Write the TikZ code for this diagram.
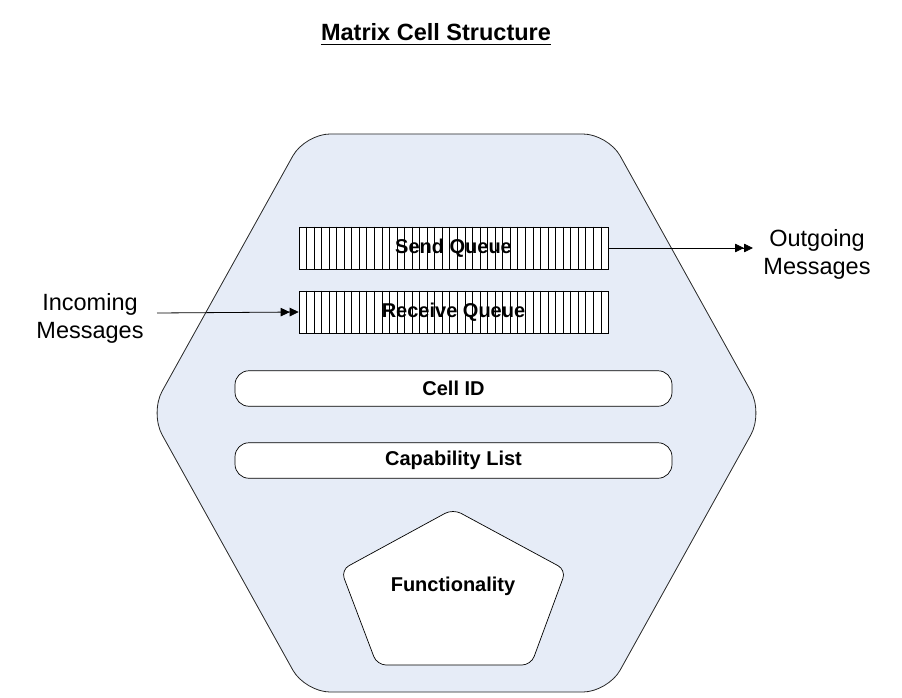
\documentclass[tikz,border=0pt]{standalone}
\usepackage{fontspec}
\setmainfont{Liberation Sans}
\usetikzlibrary{arrows.meta,calc}
\definecolor{cellfill}{RGB}{230,236,247}
\begin{document}
\begin{tikzpicture}[x=1pt,y=-1pt,
  every node/.style={inner sep=0pt},
  queue/.style={draw, fill=white, line width=0.6pt, minimum width=309pt, minimum height=42pt},
  bar/.style={draw, fill=white, rounded corners=14pt, line width=0.7pt, minimum width=437pt, minimum height=35.5pt, font=\fontsize{20}{24}\selectfont\bfseries},
  lbl/.style={font=\fontsize{20}{24}\selectfont\bfseries},
  outer/.style={align=center, font=\fontsize{23.5}{28}\selectfont},
  arr/.style={line width=0.8pt, -{Triangle[length=9pt,width=8.5pt]Triangle[length=9pt,width=8.5pt]}}]
\useasboundingbox[fill=white] (0,0) rectangle (902,698);

% title
\node[font=\fontsize{23.5}{28}\selectfont\bfseries, anchor=base] (title) at (436,41) {Matrix Cell Structure};
\draw[line width=1.6pt] ($(title.base west)+(0pt,-3.5pt)$) -- ($(title.base east)+(0pt,-3.5pt)$);

% cell hexagon
\path[draw=black!85, fill=cellfill, line width=0.8pt, rounded corners=25pt]
  (305,134) -- (608,134) -- (763,413) -- (608,692) -- (305,692) -- (150,413) -- cycle;

% queues
\node[queue] (sq) at (453.5,248) {};
\node[queue] (rq) at (453.5,312) {};
\foreach \q in {sq,rq}{
  \foreach \i in {1,...,40}{
    \draw[line width=0.5pt] ($(\q.north west)!\i/41!(\q.north east)$) -- ($(\q.south west)!\i/41!(\q.south east)$);
  }
}
\node[lbl] (sqt) at (sq.center) {Send Queue};
\node[lbl] (rqt) at (rq.center) {Receive Queue};

% bars
\node[bar] (cid) at (453.5,388.5) {Cell ID};
\node[bar] (cap) at (453.5,460.5) {Capability List};

% functionality pentagon
\draw[fill=white, line width=0.7pt, rounded corners=9pt]
  (453,509) -- (566,570) -- (531,665) -- (377,665) -- (341,570) -- cycle;
\node[lbl] (func) at (453,586) {Functionality};

% external messages
\node[outer] (out) at (817,254) {Outgoing\\Messages};
\node[outer] (inm) at (90,318) {Incoming\\Messages};
\coordinate (outend) at (753,248);
\coordinate (instart) at (157,313);
\draw[arr] (sq.east) -- (outend);
\draw[arr] (instart) -- (rq.west);
\end{tikzpicture}
\end{document}
